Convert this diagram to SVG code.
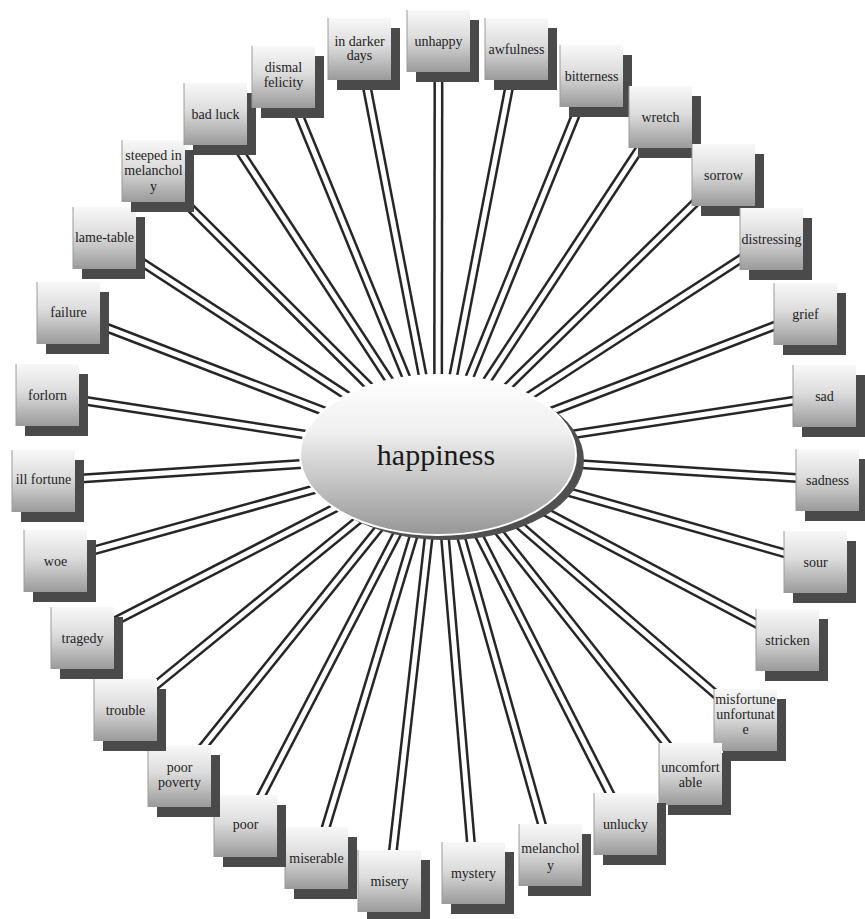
<svg xmlns="http://www.w3.org/2000/svg" width="865" height="919" viewBox="0 0 865 919">
<style>
.sh{fill:#4a4a4a}
.bx{fill:url(#bg);stroke:#9a9a9a;stroke-width:1;stroke-dasharray:0 188 62}
.t{font-family:"Liberation Serif","Times New Roman",serif;font-size:14px;fill:#1e1e1e;text-anchor:middle}
.ht{font-family:"Liberation Serif","Times New Roman",serif;font-size:30px;fill:#1a1a1a;text-anchor:middle}
.o{stroke:#262626;stroke-width:10;fill:none}
.i{stroke:#ffffff;stroke-width:5;fill:none}
</style>
<defs>
<linearGradient id="bg" x1="0" y1="0" x2="0" y2="1">
<stop offset="0" stop-color="#f8f8f8"/>
<stop offset="0.45" stop-color="#dcdcdc"/>
<stop offset="1" stop-color="#9a9a9a"/>
</linearGradient>
<linearGradient id="eg" x1="0" y1="0" x2="0" y2="1">
<stop offset="0" stop-color="#ffffff"/>
<stop offset="0.35" stop-color="#f0f0f0"/>
<stop offset="1" stop-color="#969696"/>
</linearGradient>
</defs>
<rect width="865" height="919" fill="#ffffff"/>
<g id="connectors">
<g><line class="o" x1="359.5" y1="49" x2="438" y2="455"/><line class="i" x1="359.5" y1="49" x2="438" y2="455"/></g>
<g><line class="o" x1="438.5" y1="41" x2="438" y2="455"/><line class="i" x1="438.5" y1="41" x2="438" y2="455"/></g>
<g><line class="o" x1="516.5" y1="49" x2="438" y2="455"/><line class="i" x1="516.5" y1="49" x2="438" y2="455"/></g>
<g><line class="o" x1="591.5" y1="76" x2="438" y2="455"/><line class="i" x1="591.5" y1="76" x2="438" y2="455"/></g>
<g><line class="o" x1="660.5" y1="117" x2="438" y2="455"/><line class="i" x1="660.5" y1="117" x2="438" y2="455"/></g>
<g><line class="o" x1="723.5" y1="175" x2="438" y2="455"/><line class="i" x1="723.5" y1="175" x2="438" y2="455"/></g>
<g><line class="o" x1="771.5" y1="239" x2="438" y2="455"/><line class="i" x1="771.5" y1="239" x2="438" y2="455"/></g>
<g><line class="o" x1="805.5" y1="314" x2="438" y2="455"/><line class="i" x1="805.5" y1="314" x2="438" y2="455"/></g>
<g><line class="o" x1="824.5" y1="396" x2="438" y2="455"/><line class="i" x1="824.5" y1="396" x2="438" y2="455"/></g>
<g><line class="o" x1="827.5" y1="480" x2="438" y2="455"/><line class="i" x1="827.5" y1="480" x2="438" y2="455"/></g>
<g><line class="o" x1="815.5" y1="562" x2="438" y2="455"/><line class="i" x1="815.5" y1="562" x2="438" y2="455"/></g>
<g><line class="o" x1="787.5" y1="640" x2="438" y2="455"/><line class="i" x1="787.5" y1="640" x2="438" y2="455"/></g>
<g><line class="o" x1="745.5" y1="720" x2="438" y2="455"/><line class="i" x1="745.5" y1="720" x2="438" y2="455"/></g>
<g><line class="o" x1="690.5" y1="774" x2="438" y2="455"/><line class="i" x1="690.5" y1="774" x2="438" y2="455"/></g>
<g><line class="o" x1="625.5" y1="824" x2="438" y2="455"/><line class="i" x1="625.5" y1="824" x2="438" y2="455"/></g>
<g><line class="o" x1="550.5" y1="855" x2="438" y2="455"/><line class="i" x1="550.5" y1="855" x2="438" y2="455"/></g>
<g><line class="o" x1="473.5" y1="873" x2="438" y2="455"/><line class="i" x1="473.5" y1="873" x2="438" y2="455"/></g>
<g><line class="o" x1="389.5" y1="881" x2="438" y2="455"/><line class="i" x1="389.5" y1="881" x2="438" y2="455"/></g>
<g><line class="o" x1="316.5" y1="858" x2="438" y2="455"/><line class="i" x1="316.5" y1="858" x2="438" y2="455"/></g>
<g><line class="o" x1="245.5" y1="826" x2="438" y2="455"/><line class="i" x1="245.5" y1="826" x2="438" y2="455"/></g>
<g><line class="o" x1="179.5" y1="776" x2="438" y2="455"/><line class="i" x1="179.5" y1="776" x2="438" y2="455"/></g>
<g><line class="o" x1="125.5" y1="710" x2="438" y2="455"/><line class="i" x1="125.5" y1="710" x2="438" y2="455"/></g>
<g><line class="o" x1="82.5" y1="638" x2="438" y2="455"/><line class="i" x1="82.5" y1="638" x2="438" y2="455"/></g>
<g><line class="o" x1="55.5" y1="561" x2="438" y2="455"/><line class="i" x1="55.5" y1="561" x2="438" y2="455"/></g>
<g><line class="o" x1="43.5" y1="481" x2="438" y2="455"/><line class="i" x1="43.5" y1="481" x2="438" y2="455"/></g>
<g><line class="o" x1="47.5" y1="395" x2="438" y2="455"/><line class="i" x1="47.5" y1="395" x2="438" y2="455"/></g>
<g><line class="o" x1="68.5" y1="313" x2="438" y2="455"/><line class="i" x1="68.5" y1="313" x2="438" y2="455"/></g>
<g><line class="o" x1="104.5" y1="238" x2="438" y2="455"/><line class="i" x1="104.5" y1="238" x2="438" y2="455"/></g>
<g><line class="o" x1="153.5" y1="171" x2="438" y2="455"/><line class="i" x1="153.5" y1="171" x2="438" y2="455"/></g>
<g><line class="o" x1="215.5" y1="114" x2="438" y2="455"/><line class="i" x1="215.5" y1="114" x2="438" y2="455"/></g>
<g><line class="o" x1="283.5" y1="77" x2="438" y2="455"/><line class="i" x1="283.5" y1="77" x2="438" y2="455"/></g>
</g>
<g id="n-in-darker-days" transform="translate(328,18)"><rect class="sh" x="9" y="10" width="63" height="62"/><rect class="bx" width="63" height="62"/><text class="t" x="31.5" y="28">in darker</text><text class="t" x="31.5" y="42">days</text></g>
<g id="n-unhappy" transform="translate(407,10)"><rect class="sh" x="9" y="10" width="63" height="62"/><rect class="bx" width="63" height="62"/><text class="t" x="31.5" y="36">unhappy</text></g>
<g id="n-awfulness" transform="translate(485,18)"><rect class="sh" x="9" y="10" width="63" height="62"/><rect class="bx" width="63" height="62"/><text class="t" x="31.5" y="36">awfulness</text></g>
<g id="n-bitterness" transform="translate(560,45)"><rect class="sh" x="9" y="10" width="63" height="62"/><rect class="bx" width="63" height="62"/><text class="t" x="31.5" y="36">bitterness</text></g>
<g id="n-wretch" transform="translate(629,86)"><rect class="sh" x="9" y="10" width="63" height="62"/><rect class="bx" width="63" height="62"/><text class="t" x="31.5" y="36">wretch</text></g>
<g id="n-sorrow" transform="translate(692,144)"><rect class="sh" x="9" y="10" width="63" height="62"/><rect class="bx" width="63" height="62"/><text class="t" x="31.5" y="36">sorrow</text></g>
<g id="n-distressing" transform="translate(740,208)"><rect class="sh" x="9" y="10" width="63" height="62"/><rect class="bx" width="63" height="62"/><text class="t" x="31.5" y="36">distressing</text></g>
<g id="n-grief" transform="translate(774,283)"><rect class="sh" x="9" y="10" width="63" height="62"/><rect class="bx" width="63" height="62"/><text class="t" x="31.5" y="36">grief</text></g>
<g id="n-sad" transform="translate(793,365)"><rect class="sh" x="9" y="10" width="63" height="62"/><rect class="bx" width="63" height="62"/><text class="t" x="31.5" y="36">sad</text></g>
<g id="n-sadness" transform="translate(796,449)"><rect class="sh" x="9" y="10" width="63" height="62"/><rect class="bx" width="63" height="62"/><text class="t" x="31.5" y="36">sadness</text></g>
<g id="n-sour" transform="translate(784,531)"><rect class="sh" x="9" y="10" width="63" height="62"/><rect class="bx" width="63" height="62"/><text class="t" x="31.5" y="36">sour</text></g>
<g id="n-stricken" transform="translate(756,609)"><rect class="sh" x="9" y="10" width="63" height="62"/><rect class="bx" width="63" height="62"/><text class="t" x="31.5" y="36">stricken</text></g>
<g id="n-misfortune" transform="translate(714,689)"><rect class="sh" x="9" y="10" width="63" height="62"/><rect class="bx" width="63" height="62"/><text class="t" x="31.5" y="15">misfortune</text><text class="t" x="31.5" y="30">unfortunat</text><text class="t" x="31.5" y="45">e</text></g>
<g id="n-uncomfortable" transform="translate(659,743)"><rect class="sh" x="9" y="10" width="63" height="62"/><rect class="bx" width="63" height="62"/><text class="t" x="31.5" y="29">uncomfort</text><text class="t" x="31.5" y="44">able</text></g>
<g id="n-unlucky" transform="translate(594,793)"><rect class="sh" x="9" y="10" width="63" height="62"/><rect class="bx" width="63" height="62"/><text class="t" x="31.5" y="36">unlucky</text></g>
<g id="n-melancholy" transform="translate(519,824)"><rect class="sh" x="9" y="10" width="63" height="62"/><rect class="bx" width="63" height="62"/><text class="t" x="31.5" y="29">melanchol</text><text class="t" x="31.5" y="46">y</text></g>
<g id="n-mystery" transform="translate(442,842)"><rect class="sh" x="9" y="10" width="63" height="62"/><rect class="bx" width="63" height="62"/><text class="t" x="31.5" y="36">mystery</text></g>
<g id="n-misery" transform="translate(358,850)"><rect class="sh" x="9" y="10" width="63" height="62"/><rect class="bx" width="63" height="62"/><text class="t" x="31.5" y="36">misery</text></g>
<g id="n-miserable" transform="translate(285,827)"><rect class="sh" x="9" y="10" width="63" height="62"/><rect class="bx" width="63" height="62"/><text class="t" x="31.5" y="36">miserable</text></g>
<g id="n-poor" transform="translate(214,795)"><rect class="sh" x="9" y="10" width="63" height="62"/><rect class="bx" width="63" height="62"/><text class="t" x="31.5" y="34">poor</text></g>
<g id="n-poor-poverty" transform="translate(148,745)"><rect class="sh" x="9" y="10" width="63" height="62"/><rect class="bx" width="63" height="62"/><text class="t" x="31.5" y="27">poor</text><text class="t" x="31.5" y="42">poverty</text></g>
<g id="n-trouble" transform="translate(94,679)"><rect class="sh" x="9" y="10" width="63" height="62"/><rect class="bx" width="63" height="62"/><text class="t" x="31.5" y="36">trouble</text></g>
<g id="n-tragedy" transform="translate(51,607)"><rect class="sh" x="9" y="10" width="63" height="62"/><rect class="bx" width="63" height="62"/><text class="t" x="31.5" y="36">tragedy</text></g>
<g id="n-woe" transform="translate(24,530)"><rect class="sh" x="9" y="10" width="63" height="62"/><rect class="bx" width="63" height="62"/><text class="t" x="31.5" y="36">woe</text></g>
<g id="n-ill-fortune" transform="translate(12,450)"><rect class="sh" x="9" y="10" width="63" height="62"/><rect class="bx" width="63" height="62"/><text class="t" x="31.5" y="34">ill fortune</text></g>
<g id="n-forlorn" transform="translate(16,364)"><rect class="sh" x="9" y="10" width="63" height="62"/><rect class="bx" width="63" height="62"/><text class="t" x="31.5" y="36">forlorn</text></g>
<g id="n-failure" transform="translate(37,282)"><rect class="sh" x="9" y="10" width="63" height="62"/><rect class="bx" width="63" height="62"/><text class="t" x="31.5" y="35">failure</text></g>
<g id="n-lame-table" transform="translate(73,207)"><rect class="sh" x="9" y="10" width="63" height="62"/><rect class="bx" width="63" height="62"/><text class="t" x="31.5" y="35">lame-table</text></g>
<g id="n-steeped" transform="translate(122,140)"><rect class="sh" x="9" y="10" width="63" height="62"/><rect class="bx" width="63" height="62"/><text class="t" x="31.5" y="20">steeped in</text><text class="t" x="31.5" y="35">melanchol</text><text class="t" x="31.5" y="51">y</text></g>
<g id="n-bad-luck" transform="translate(184,83)"><rect class="sh" x="9" y="10" width="63" height="62"/><rect class="bx" width="63" height="62"/><text class="t" x="31.5" y="36">bad luck</text></g>
<g id="n-dismal-felicity" transform="translate(252,46)"><rect class="sh" x="9" y="10" width="63" height="62"/><rect class="bx" width="63" height="62"/><text class="t" x="31.5" y="26">dismal</text><text class="t" x="31.5" y="41">felicity</text></g>
<g id="n-happiness">
<ellipse cx="446" cy="460" rx="138" ry="80" fill="#505050"/>
<ellipse cx="438" cy="455" rx="138" ry="80" fill="url(#eg)" stroke="#ffffff" stroke-width="2"/>
<text class="ht" x="436" y="465">happiness</text>
</g>
</svg>
